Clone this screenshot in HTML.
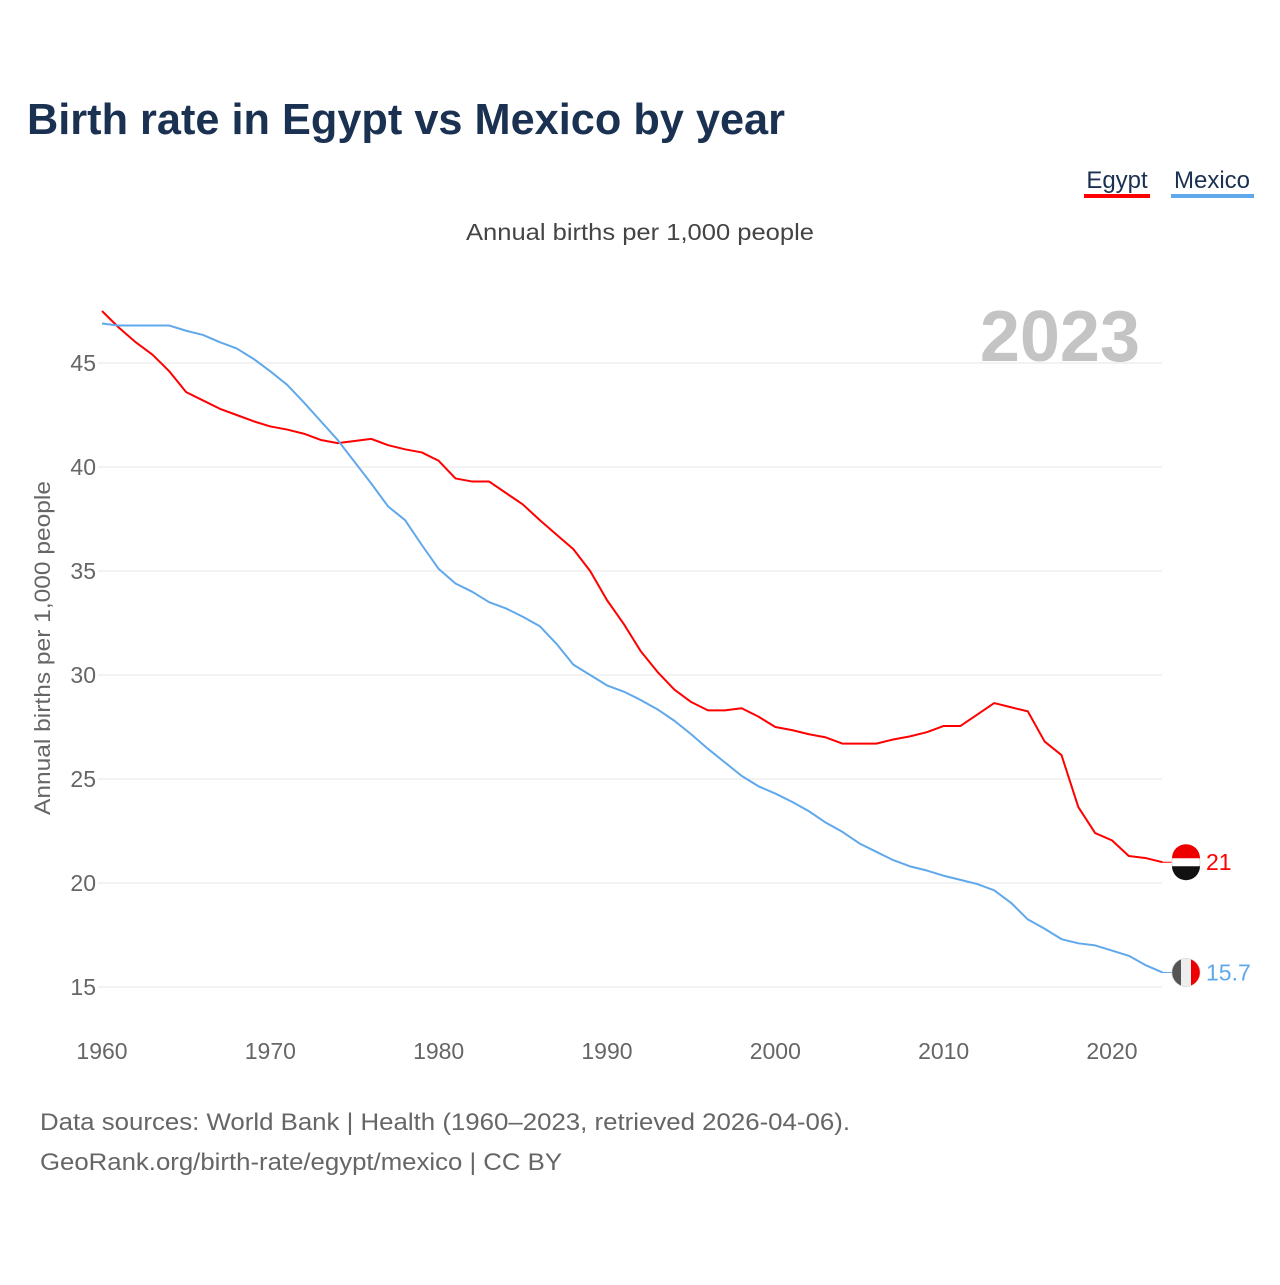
<!DOCTYPE html>
<html><head><meta charset="utf-8">
<style>
body{margin:0;background:#fff;width:1280px;height:1280px;overflow:hidden;font-family:"Liberation Sans",sans-serif;}
svg text{font-family:"Liberation Sans",sans-serif;}
</style></head>
<body>
<svg width="1280" height="1280" viewBox="0 0 1280 1280">
<text x="27" y="134" font-size="44" font-weight="bold" fill="#1b3151" textLength="758" lengthAdjust="spacingAndGlyphs">Birth rate in Egypt vs Mexico by year</text>
<g>
<text x="1117" y="188" font-size="24" fill="#1b3151" text-anchor="middle">Egypt</text>
<rect x="1084" y="194" width="66" height="4" fill="#ff0000"/>
</g>
<g>
<text x="1212" y="188" font-size="24" fill="#1b3151" text-anchor="middle">Mexico</text>
<rect x="1171" y="194" width="83" height="4" fill="#60a8ec"/>
</g>
<text x="466" y="240" font-size="23" fill="#444" textLength="348" lengthAdjust="spacingAndGlyphs">Annual births per 1,000 people</text>
<text x="1140" y="361" font-size="72" font-weight="bold" fill="#c4c4c4" text-anchor="end">2023</text>
<text transform="translate(50,648) rotate(-90)" font-size="22" fill="#666" text-anchor="middle" textLength="334" lengthAdjust="spacingAndGlyphs">Annual births per 1,000 people</text>
<g id="grid"></g><g id="xt"></g><g id="lines"></g>
<text x="40" y="1130" font-size="24" fill="#666" textLength="810" lengthAdjust="spacingAndGlyphs">Data sources: World Bank | Health (1960–2023, retrieved 2026-04-06).</text>
<text x="40" y="1170" font-size="24" fill="#666" textLength="522" lengthAdjust="spacingAndGlyphs">GeoRank.org/birth-rate/egypt/mexico | CC BY</text>
</svg>
<script>
const years=[];for(let y=1960;y<=2023;y++)years.push(y);
const egypt=[47.5,46.7,46.0,45.4,44.6,43.6,43.2,42.8,42.5,42.2,41.95,41.8,41.6,41.3,41.15,41.25,41.35,41.05,40.85,40.7,40.3,39.45,39.3,39.3,38.75,38.2,37.45,36.75,36.05,35.0,33.6,32.45,31.15,30.15,29.3,28.7,28.3,28.3,28.4,28.0,27.5,27.35,27.15,27.0,26.7,26.7,26.7,26.9,27.05,27.25,27.55,27.55,28.1,28.65,28.45,28.25,26.8,26.15,23.65,22.4,22.05,21.3,21.2,21.0];
const mexico=[46.9,46.8,46.8,46.8,46.8,46.55,46.35,46.0,45.7,45.2,44.6,43.95,43.1,42.2,41.3,40.25,39.2,38.1,37.45,36.25,35.1,34.4,34.0,33.5,33.2,32.8,32.35,31.5,30.5,30.0,29.5,29.2,28.8,28.35,27.8,27.15,26.45,25.8,25.15,24.65,24.3,23.9,23.45,22.9,22.45,21.9,21.5,21.1,20.8,20.6,20.35,20.15,19.95,19.65,19.05,18.25,17.8,17.3,17.1,17.0,16.75,16.5,16.05,15.7];
const yTicks=[15,20,25,30,35,40,45];
const xTicks=[1960,1970,1980,1990,2000,2010,2020];
const X=y=>102+(y-1960)*16.833, Y=v=>987-(v-15)*20.8;
const NS="http://www.w3.org/2000/svg";
function mk(t,a,p){const e=document.createElementNS(NS,t);for(const k in a)e.setAttribute(k,a[k]);p.appendChild(e);return e;}
const g=document.getElementById('grid');
yTicks.forEach(v=>{const l=mk('line',{x1:98,x2:1162,y1:Y(v),y2:Y(v),stroke:'#e6e6e6','stroke-width':1},g);


const t=mk('text',{x:96,y:Y(v)+8,'font-size':23,fill:'#666','text-anchor':'end'},g);t.textContent=v;

});
const xt=document.getElementById('xt');
xTicks.forEach(v=>{const t=mk('text',{x:X(v),y:1059,'font-size':23,fill:'#666','text-anchor':'middle'},xt);t.textContent=v;

});
const L=document.getElementById('lines');
function series(d,c,name,lab){
const p=mk('polyline',{points:d.map((v,i)=>X(years[i])+','+Y(v)).join(' '),fill:'none',stroke:c,'stroke-width':2,'stroke-linejoin':'round'},L);


const last=d[d.length-1],cy=Y(last);
mk('line',{x1:X(2023),x2:1186,y1:cy,y2:cy,stroke:c,'stroke-width':1},L);
const f=mk('circle',{cx:1186,cy:cy,r:14,fill:name==='egypt'?'#fff':'#eee',stroke:'#ddd'},L);


if(name==='egypt'){mk('path',{d:`M1172 ${cy-4}A14 14 0 0 1 1200 ${cy-4}Z`,fill:'#e00'},L);mk('path',{d:`M1172 ${cy+4}A14 14 0 0 0 1200 ${cy+4}Z`,fill:'#111'},L);}
else{mk('path',{d:`M1181 ${cy-13}A14 14 0 0 0 1181 ${cy+13}Z`,fill:'#555'},L);mk('path',{d:`M1191 ${cy-13}A14 14 0 0 1 1191 ${cy+13}Z`,fill:'#e00'},L);}
const t=mk('text',{x:1206,y:cy+8,'font-size':23,fill:c},L);t.textContent=lab;


}
series(egypt,'#ff0000','egypt','21');
series(mexico,'#60a8ec','mexico','15.7');
</script>
</body></html>
